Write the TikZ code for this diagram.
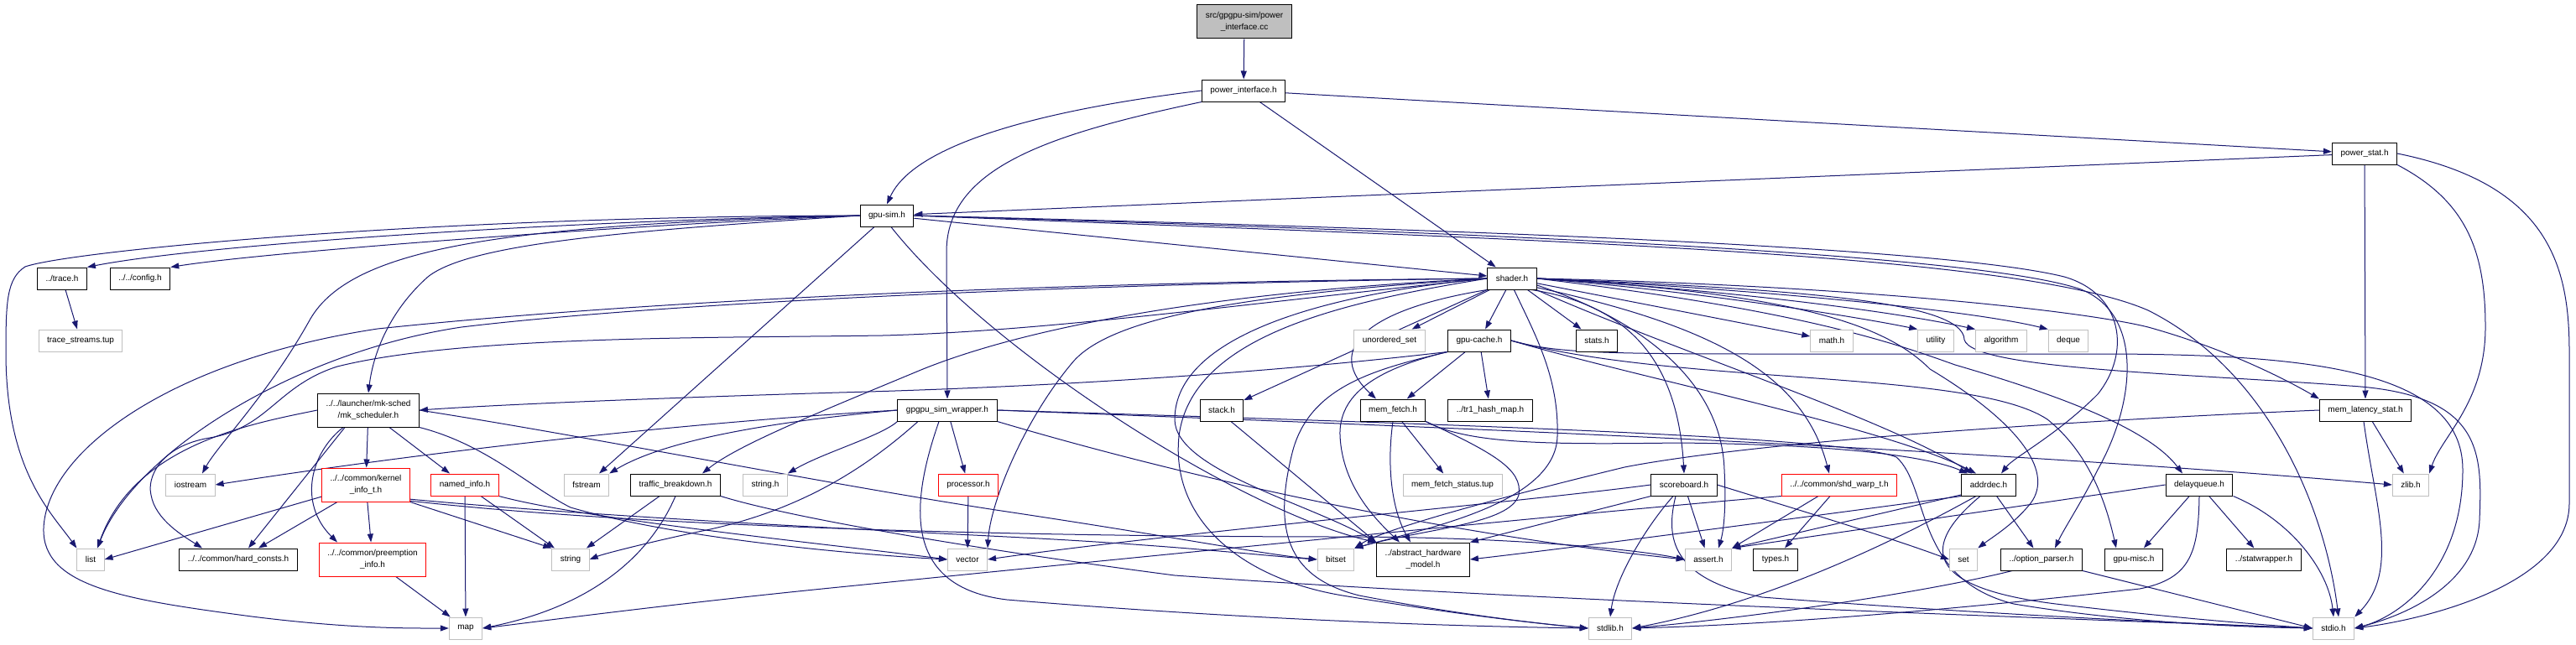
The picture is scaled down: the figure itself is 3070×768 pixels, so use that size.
\documentclass[tikz,border=0pt]{standalone}
\usepackage{fontspec}
\setmainfont{Liberation Sans}
\usepackage{xcolor}
\usepackage{tikz}
\usetikzlibrary{arrows.meta, backgrounds}
\definecolor{edgeblue}{RGB}{25, 25, 112}
\definecolor{sysgray}{RGB}{191, 191, 191}
\definecolor{missred}{RGB}{255, 0, 0}
\definecolor{rootgray}{RGB}{191, 191, 191}

\begin{document}
\begin{tikzpicture}[
  x=1bp, y=-1bp,
  hdr/.style={draw=black, fill=white, line width=1bp, inner xsep=10bp,
              inner ysep=0bp, minimum height=26bp, align=center,
              font=\fontsize{10}{14}\selectfont},
  sys/.style={hdr, draw=sysgray},
  miss/.style={hdr, draw=missred},
  tall/.style={minimum height=40bp},
  arrow/.style={-{Triangle[length=10bp,width=7bp]}, draw=edgeblue, line width=1bp}
]
  \useasboundingbox (0,0) rectangle (3070,768);

  \node[hdr, tall, fill=rootgray] (root) at (1483,26) {src/gpgpu-sim/power\\\_interface.cc};
  \node[hdr] (pi) at (1482,108) {power\_interface.h};
  \node[hdr] (pstat) at (2818,183) {power\_stat.h};
  \node[hdr] (gpusim) at (1057,257) {gpu-sim.h};
  \node[hdr] (shader) at (1802,332) {shader.h};
  \node[hdr] (trace) at (74,332) {../trace.h};
  \node[hdr] (config) at (167,332) {../../config.h};

  \node[sys] (tstreams) at (96,406) {trace\_streams.tup};
  \node[sys] (unordset) at (1656,406) {unordered\_set};
  \node[hdr] (gcache) at (1763,406) {gpu-cache.h};
  \node[hdr] (stats) at (1903,406) {stats.h};
  \node[sys] (mathh) at (2183,406) {math.h};
  \node[sys] (utility) at (2307,406) {utility};
  \node[sys] (algorithm) at (2385,406) {algorithm};
  \node[sys] (deque) at (2465,406) {deque};

  \node[hdr, tall] (mksched) at (439,489) {../../launcher/mk-sched\\/mk\_scheduler.h};
  \node[hdr] (wrapper) at (1129,489) {gpgpu\_sim\_wrapper.h};
  \node[hdr] (stack) at (1456,489) {stack.h};
  \node[hdr] (memfetch) at (1660,489) {mem\_fetch.h};
  \node[hdr] (tr1) at (1776,489) {../tr1\_hash\_map.h};
  \node[hdr] (memlat) at (2819,489) {mem\_latency\_stat.h};

  \node[sys] (iostream) at (227,578) {iostream};
  \node[miss, tall] (kinfo) at (436,578) {../../common/kernel\\\_info\_t.h};
  \node[miss] (named) at (554,578) {named\_info.h};
  \node[sys] (fstream) at (699,578) {fstream};
  \node[hdr] (traffic) at (805,578) {traffic\_breakdown.h};
  \node[sys] (stringh) at (912,578) {string.h};
  \node[miss] (processor) at (1154,578) {processor.h};
  \node[sys] (mfstatus) at (1731,578) {mem\_fetch\_status.tup};
  \node[hdr] (scoreboard) at (2007,578) {scoreboard.h};
  \node[miss] (shdwarp) at (2192,578) {../../common/shd\_warp\_t.h};
  \node[hdr] (addrdec) at (2370,578) {addrdec.h};
  \node[hdr] (delayq) at (2621,578) {delayqueue.h};
  \node[sys] (zlib) at (2873,578) {zlib.h};

  \node[sys] (list) at (108,667) {list};
  \node[hdr] (hardc) at (284,667) {../../common/hard\_consts.h};
  \node[miss, tall] (preempt) at (444,667) {../../common/preemption\\\_info.h};
  \node[sys] (string) at (680,667) {string};
  \node[sys] (vector) at (1153,667) {vector};
  \node[sys] (bitset) at (1592,667) {bitset};
  \node[hdr, tall] (ahw) at (1696,667) {../abstract\_hardware\\\_model.h};
  \node[sys] (assert) at (2036,667) {assert.h};
  \node[hdr] (types) at (2116,667) {types.h};
  \node[sys] (set) at (2340,667) {set};
  \node[hdr] (optparse) at (2433,667) {../option\_parser.h};
  \node[hdr] (gpumisc) at (2543,667) {gpu-misc.h};
  \node[hdr] (statwrap) at (2698,667) {../statwrapper.h};

  \node[sys] (map) at (555,749) {map};
  \node[sys] (stdlib) at (1919,749) {stdlib.h};
  \node[sys] (stdio) at (2781,749) {stdio.h};

  \begin{scope}[on background layer]
  \fill[white] (0,0) rectangle (3070,768);

  \draw[arrow] (root) -- (pi);
  \draw[arrow] (pi.west) .. controls (1250,130) and (1090,170) .. (gpusim.north);
  \draw[arrow] (pi.south west) .. controls (1250,160) and (1128,200) .. (1128,300) -- (wrapper.north);
  \draw[arrow] (pi) -- (shader);
  \draw[arrow] (pi) -- (pstat);

  \draw[arrow] (pstat) -- (gpusim);
  \draw[arrow] (pstat) -- (memlat);
  \draw[arrow] (pstat.south east) .. controls (2940,240) and (2962,300) .. (2962,390) .. controls (2962,480) and (2910,520) .. (zlib.north east);
  \draw[arrow] (pstat.east) .. controls (3040,220) and (3062,320) .. (3062,420) -- (3062,600) .. controls (3062,700) and (2880,740) .. (stdio.east);

  \draw[arrow] (gpusim.west) .. controls (700,262) and (250,290) .. (trace.north east);
  \draw[arrow] (gpusim.west) .. controls (750,268) and (320,300) .. (config.north east);
  \draw[arrow] (gpusim.west) .. controls (500,258) and (80,300) .. (30,318) .. controls (8,332) and (7,360) .. (7,420) .. controls (7,560) and (60,610) .. (list.north west);
  \draw[arrow] (gpusim.west) .. controls (600,268) and (420,295) .. (370,380) .. controls (320,470) and (260,530) .. ([xshift=14bp]iostream.north);
  \draw[arrow] (gpusim.west) .. controls (750,275) and (560,290) .. (510,330) .. controls (465,370) and (445,420) .. (mksched.north);
  \draw[arrow] (gpusim) -- (fstream);
  \draw[arrow] (gpusim.-70) .. controls (1180,420) and (1480,610) .. (ahw.north west);
  \draw[arrow] (gpusim) -- (shader);
  \draw[arrow] (gpusim.east) .. controls (1600,270) and (2300,290) .. (2460,330) .. controls (2530,350) and (2540,420) .. (2500,470) .. controls (2450,520) and (2400,545) .. ([xshift=15bp]addrdec.north);
  \draw[arrow] (gpusim.east) .. controls (1700,275) and (2350,300) .. (2480,345) .. controls (2555,375) and (2545,480) .. (2500,560) .. controls (2480,600) and (2460,630) .. ([xshift=16bp]optparse.north);
  \draw[arrow] (gpusim.east) .. controls (1800,285) and (2400,300) .. (2560,370) .. controls (2700,440) and (2770,600) .. ([xshift=6bp]stdio.north);

  \draw[arrow] (trace) -- (tstreams);

  \draw[arrow] (shader) -- (unordset);
  \draw[arrow] (shader) -- (gcache);
  \draw[arrow] (shader) -- (stats);
  \draw[arrow] (shader) -- (stack);
  \draw[arrow] (shader.south west) .. controls (1620,370) and (1580,420) .. ([xshift=-20bp]memfetch.north);
  \draw[arrow] (shader) -- (mathh);
  \draw[arrow] (shader.east) .. controls (2000,345) and (2200,375) .. (utility.north west);
  \draw[arrow] (shader.east) .. controls (2050,345) and (2250,370) .. (algorithm.north west);
  \draw[arrow] (shader.east) .. controls (2100,345) and (2350,370) .. (deque.north west);
  \draw[arrow] (shader.east) .. controls (2200,340) and (2480,370) .. (2560,390) .. controls (2650,415) and (2720,450) .. (memlat.north west);
  \draw[arrow] (shader.-30) .. controls (1950,365) and (2000,440) .. (scoreboard.north);
  \draw[arrow] (shader.-20) .. controls (2050,390) and (2150,450) .. ([xshift=-12bp]shdwarp.north);
  \draw[arrow] (shader.-25) .. controls (2000,420) and (2250,500) .. ([xshift=-20bp]addrdec.north);
  \draw[arrow] (shader.east) .. controls (2150,370) and (2260,410) .. (2330,435) .. controls (2450,470) and (2560,510) .. ([xshift=-20bp]delayq.north);
  \draw[arrow] (shader.east) .. controls (2150,350) and (2250,390) .. (2300,440) .. controls (2400,500) and (2450,560) .. (2420,600) .. controls (2400,625) and (2375,640) .. (set.north east);
  \draw[arrow] (shader.east) .. controls (2150,345) and (2340,360) .. (2341,405) .. controls (2350,440) and (2600,445) .. (2800,460) .. controls (2960,470) and (2958,540) .. (2955,620) .. controls (2952,690) and (2880,730) .. (stdio.east);
  \draw[arrow] (shader.west) .. controls (1600,360) and (1420,400) .. (1405,520) .. controls (1395,620) and (1480,690) .. (1600,710) .. controls (1750,735) and (1850,745) .. (stdlib.west);
  \draw[arrow] (shader.west) .. controls (1580,350) and (1400,400) .. (1400,500) .. controls (1400,560) and (1560,600) .. (ahw.north west);
  \draw[arrow] (shader.-80) .. controls (1830,400) and (1858,450) .. (1856,520) .. controls (1854,600) and (1700,630) .. (bitset.north east);
  \draw[arrow] (shader.-15) .. controls (1980,390) and (2052,470) .. (2055,560) .. controls (2057,600) and (2055,630) .. ([xshift=12bp]assert.north);
  \draw[arrow] (shader.west) .. controls (1500,350) and (1330,375) .. (1280,430) .. controls (1220,500) and (1180,600) .. (vector.north east);
  \draw[arrow] (shader.west) .. controls (1500,345) and (1250,380) .. (1100,440) .. controls (980,490) and (880,530) .. ([xshift=32bp]traffic.north);
  \draw[arrow] (shader.west) .. controls (1300,338) and (800,360) .. (550,390) .. controls (350,420) and (160,540) .. ([xshift=8bp]list.north);
  \draw[arrow] (shader.west) .. controls (1300,336) and (800,355) .. (450,392) .. controls (200,430) and (55,540) .. (52,630) .. controls (50,700) and (150,715) .. (300,735) .. controls (420,750) and (490,749) .. (map.west);
  \draw[arrow] (shader.west) .. controls (1500,360) and (1250,395) .. (1052,400) .. controls (850,403) and (550,400) .. (402,437) .. controls (330,460) and (320,510) .. (250,522) .. controls (190,532) and (175,570) .. (180,590) .. controls (185,620) and (220,640) .. ([xshift=-43bp]hardc.north);

  \draw[arrow] (gcache.south west) .. controls (1550,440) and (1300,460) .. (1000,468) .. controls (800,474) and (600,482) .. (mksched.east);
  \draw[arrow] (gcache) -- (memfetch);
  \draw[arrow] (gcache) -- (tr1);
  \draw[arrow] (gcache.south west) .. controls (1640,440) and (1560,460) .. (1540,540) .. controls (1515,640) and (1540,690) .. (1620,710) .. controls (1750,735) and (1850,745) .. (stdlib.west);
  \draw[arrow] (gcache.south west) .. controls (1640,440) and (1595,470) .. (1597,520) .. controls (1600,580) and (1640,620) .. ([xshift=-28bp]ahw.north);
  \draw[arrow] (gcache.east) .. controls (1950,450) and (2250,510) .. ([xshift=-15bp]addrdec.north);
  \draw[arrow] (gcache.east) .. controls (2000,460) and (2350,440) .. (2440,500) .. controls (2490,540) and (2510,600) .. ([xshift=-21bp]gpumisc.north);
  \draw[arrow] (gcache.east) .. controls (1850,420) and (1900,422) .. (2100,422) -- (2500,422) .. controls (2750,422) and (2935,440) .. (2935,560) .. controls (2935,680) and (2860,735) .. (stdio.east);

  \draw[arrow] (memfetch) -- (mfstatus);
  \draw[arrow] (memfetch.south) .. controls (1652,560) and (1660,610) .. ([xshift=-15bp]ahw.north);
  \draw[arrow] (memfetch.south east) .. controls (1780,540) and (1815,560) .. (1810,590) .. controls (1800,625) and (1700,630) .. (bitset.north east);
  \draw[arrow] (memfetch.south east) .. controls (1750,530) and (1850,530) .. (2000,528) .. controls (2200,530) and (2300,545) .. ([xshift=-25bp]addrdec.north);

  \draw[arrow] ([xshift=11bp]stack.south) -- (ahw.north west);

  \draw[arrow] (wrapper.west) .. controls (800,505) and (500,540) .. (iostream.east);
  \draw[arrow] (wrapper.west) .. controls (950,500) and (800,520) .. (fstream.north east);
  \draw[arrow] (wrapper.south west) .. controls (1050,520) and (980,540) .. (stringh.north east);
  \draw[arrow] ([xshift=-35bp]wrapper.south) .. controls (1030,560) and (950,610) .. (837,633) .. controls (780,645) and (720,660) .. (string.east);
  \draw[arrow] (wrapper) -- (processor);
  \draw[arrow] ([xshift=-10bp]wrapper.south) .. controls (1085,600) and (1075,700) .. (1200,715) .. controls (1500,740) and (1750,747) .. (stdlib.west);
  \draw[arrow] (wrapper.south east) .. controls (1450,580) and (1750,640) .. (assert.west);
  \draw[arrow] (wrapper.east) .. controls (1600,505) and (2300,530) .. (zlib.west);
  \draw[arrow] (wrapper.east) .. controls (1700,505) and (2200,520) .. (2260,545) .. controls (2300,580) and (2280,690) .. (2400,720) .. controls (2550,745) and (2700,748) .. (stdio.west);

  \draw[arrow] (processor) -- (vector);

  \draw[arrow] (mksched.west) .. controls (300,505) and (160,530) .. ([xshift=8bp]list.north);
  \draw[arrow] ([xshift=-28bp]mksched.south) -- ([xshift=12bp]hardc.north);
  \draw[arrow] ([xshift=-30bp]mksched.south) .. controls (370,540) and (355,600) .. ([xshift=-42bp]preempt.north);
  \draw[arrow] (mksched) -- (kinfo);
  \draw[arrow] ([xshift=25bp]mksched.south) -- ([xshift=-18bp]named.north);
  \draw[arrow] (mksched.south east) .. controls (580,530) and (630,580) .. (680,605) .. controls (800,640) and (1000,660) .. (vector.west);
  \draw[arrow] (mksched.east) .. controls (700,520) and (1000,580) .. (1200,610) .. controls (1400,640) and (1500,660) .. (bitset.west);

  \draw[arrow] (kinfo.195) -- (list.east);
  \draw[arrow] ([xshift=-34bp]kinfo.south) -- ([xshift=24bp]hardc.north);
  \draw[arrow] (kinfo) -- (preempt);
  \draw[arrow] (kinfo.south east) -- (string.north west);
  \draw[arrow] (kinfo.-18) .. controls (700,615) and (1000,630) .. (1200,640) .. controls (1400,650) and (1500,662) .. (bitset.west);
  \draw[arrow] (kinfo.-20) .. controls (800,632) and (1300,640) .. (1600,640) .. controls (1800,640) and (1950,655) .. (assert.west);

  \draw[arrow] (named) -- (map);
  \draw[arrow] (named) -- (string);
  \draw[arrow] (named.south east) .. controls (700,620) and (1000,650) .. (vector.west);

  \draw[arrow] (preempt) -- (map);

  \draw[arrow] (traffic) -- (string);
  \draw[arrow] (traffic.south) .. controls (780,650) and (720,720) .. (map.east);
  \draw[arrow] (traffic.south east) .. controls (950,620) and (1200,660) .. (1400,686) .. controls (1800,715) and (2400,735) .. (stdio.west);

  \draw[arrow] (scoreboard.south west) -- (ahw.north east);
  \draw[arrow] (scoreboard) -- (assert);
  \draw[arrow] ([xshift=-13bp]scoreboard.south) .. controls (1960,630) and (1925,690) .. (stdlib.north);
  \draw[arrow] ([xshift=-10bp]scoreboard.south) .. controls (1985,640) and (1990,690) .. (2100,712) .. controls (2400,735) and (2650,745) .. (stdio.west);
  \draw[arrow] (scoreboard.east) .. controls (2150,610) and (2250,640) .. (set.west);
  \draw[arrow] (scoreboard.west) .. controls (1800,600) and (1400,635) .. (vector.east);

  \draw[arrow] ([xshift=-25bp]shdwarp.south) -- (assert.north east);
  \draw[arrow] ([xshift=-11bp]shdwarp.south) -- ([xshift=11bp]types.north);
  \draw[arrow] (shdwarp.south west) .. controls (1900,610) and (1400,660) .. (1000,700) .. controls (800,720) and (650,740) .. (map.east);

  \draw[arrow] (addrdec.-160) -- (assert.north east);
  \draw[arrow] (addrdec) -- (optparse);
  \draw[arrow] ([xshift=-15bp]addrdec.south) .. controls (2250,650) and (2100,720) .. (stdlib.east);
  \draw[arrow] ([xshift=-10bp]addrdec.south) .. controls (2290,650) and (2290,700) .. (2450,720) .. controls (2600,738) and (2700,745) .. (stdio.west);
  \draw[arrow] (addrdec.south west) .. controls (2200,610) and (1900,650) .. (ahw.east);

  \draw[arrow] (delayq) -- (gpumisc);
  \draw[arrow] (delayq) -- (statwrap);
  \draw[arrow] (delayq.south east) .. controls (2730,620) and (2775,680) .. (stdio.north);
  \draw[arrow] (delayq.west) -- (assert.north east);
  \draw[arrow] (delayq.south) .. controls (2620,660) and (2610,690) .. (2550,702) .. controls (2300,730) and (2100,745) .. (stdlib.east);

  \draw[arrow] ([xshift=-35bp]optparse.south) .. controls (2300,705) and (2100,735) .. (stdlib.east);
  \draw[arrow] (optparse.south east) -- (stdio.west);

  \draw[arrow] (memlat) -- (zlib);
  \draw[arrow] ([xshift=-2bp]memlat.south) .. controls (2830,600) and (2860,680) .. (stdio.north east);
  \draw[arrow] (memlat.west) .. controls (2500,500) and (2100,525) .. (1936,557) .. controls (1800,590) and (1650,630) .. (bitset.north east);
  \end{scope}
\end{tikzpicture}
\end{document}
